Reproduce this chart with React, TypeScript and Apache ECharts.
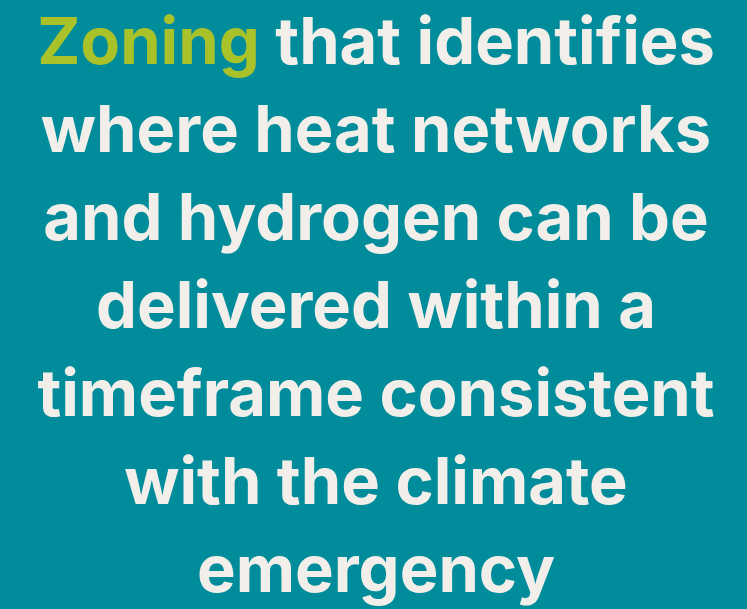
import React, { useEffect, useRef } from "react";
import * as echarts from "echarts";

const highlightWord = "Zoning";
const lines = [
  "{g|Zoning} that identifies",
  "where heat networks",
  "and hydrogen can be",
  "delivered within a",
  "timeframe consistent",
  "with the climate",
  "emergency",
];
const baselines = [66, 154, 242, 330, 418, 506, 594];

export default function App() {
  const ref = useRef<HTMLDivElement>(null);
  useEffect(() => {
    document.body.style.margin = "0";
    const chart = echarts.init(ref.current!, undefined, { renderer: "svg" });
    const fontSize = 65;
    const fam = "Inter";
    chart.setOption({
      animation: false,
      backgroundColor: "#008C9A",
      graphic: lines.map((t, i) => ({
        type: "text",
        x: 376,
        y: baselines[i] - 26,
        style: {
          text: t,
          fill: "#F2EFEA",
          fontFamily: fam,
          fontWeight: 700,
          fontSize,
          textAlign: "center",
          textVerticalAlign: "middle",
          rich: {
            g: { fill: "#A9C22A", fontFamily: fam, fontWeight: 700, fontSize },
          },
        },
      })),
    });
    return () => chart.dispose();
  }, []);
  return <div ref={ref} style={{ position: "fixed", left: 0, top: 0, width: 747, height: 609 }} data-h={highlightWord} />;
}
